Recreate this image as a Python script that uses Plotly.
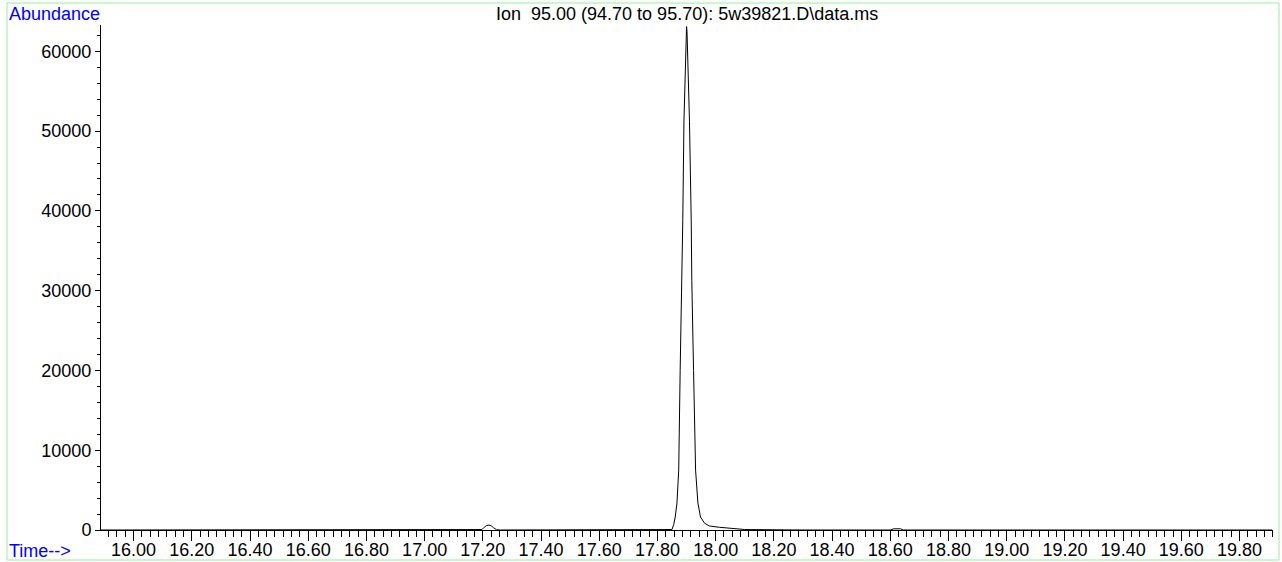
import plotly.graph_objects as go

# Retention time (min) and abundance
times = [15.888, 16.50, 17.00, 17.19, 17.197, 17.205, 17.213, 17.221, 17.229,
         17.237, 17.247, 17.26, 17.60, 17.80, 17.845, 17.850, 17.856, 17.861,
         17.867, 17.873, 17.878, 17.884, 17.887, 17.891, 17.8985, 17.900,
         17.9015, 17.910, 17.916, 17.918, 17.924, 17.931, 17.939, 17.948,
         17.962, 17.979, 18.013, 18.048, 18.075, 18.10, 18.30, 18.60, 18.612,
         18.62, 18.635, 18.645, 19.00, 19.912]
abundance = [0, 0, 0, 0, 60, 350, 560, 620, 520,
             280, 30, 0, 0, 0, 0, 60, 700, 1625,
             3375, 7500, 20000, 31250, 38750, 51250, 62800, 63100,
             62500, 51250, 38750, 31250, 20000, 7500, 3375, 1625,
             840, 500, 340, 250, 200, 60, 0, 0, 150,
             180, 150, 0, 0, 0]

title_text = "Ion  95.00 (94.70 to 95.70): 5w39821.D\\data.ms"
y_label = "Abundance"
x_label = "Time-->"

FONT = "Liberation Sans, Arial, sans-serif"

fig = go.Figure()
fig.add_trace(go.Scatter(x=times, y=abundance, mode="lines",
                         line=dict(color="black", width=1),
                         hoverinfo="skip", showlegend=False))

L, R, T, B = 101, 9, 25, 32
W, H = 1282, 562
pw = W - L - R
ph = H - T - B

def px(x):
    return (x - L) / pw

def py(y):
    return (H - B - y) / ph

fig.update_layout(
    width=W, height=H,
    margin=dict(l=L, r=R, t=T, b=B, pad=0, autoexpand=False),
    paper_bgcolor="white", plot_bgcolor="white",
    font=dict(family=FONT, size=18, color="black"),
    xaxis=dict(range=[15.888, 19.915], showgrid=False, zeroline=False,
               automargin=False,
               showline=True, linecolor="black", linewidth=1,
               ticks="outside", ticklen=10, tickwidth=1, tickcolor="black",
               tick0=16.0, dtick=0.2, tickformat=".2f",
               ticklabelstandoff=-7,
               minor=dict(ticks="outside", ticklen=6, tickwidth=1,
                          tickcolor="black", tick0=16.0, dtick=0.2 / 7,
                          showgrid=False),
               tickfont=dict(size=18)),
    yaxis=dict(range=[0, 63300], showgrid=False, zeroline=False,
               automargin=False,
               showline=True, linecolor="black", linewidth=1,
               ticks="outside", ticklen=5, tickwidth=1, tickcolor="black",
               tick0=0, dtick=10000, tickformat="d",
               minor=dict(ticks="outside", ticklen=3, tickwidth=1,
                          tickcolor="black", dtick=2000, showgrid=False),
               tickfont=dict(size=18)),
    shapes=[dict(type="rect", xref="paper", yref="paper",
                 x0=px(7), x1=px(1279), y0=py(560), y1=py(3),
                 line=dict(color="#99ee99", width=1), layer="below")],
    annotations=[
        dict(text=y_label, xref="paper", yref="paper", x=px(7), y=py(14),
             xanchor="left", yanchor="middle", showarrow=False,
             font=dict(color="#0000ff", size=18, family=FONT)),
        dict(text=x_label, xref="paper", yref="paper", x=px(7), y=py(551),
             xanchor="left", yanchor="middle", showarrow=False,
             font=dict(color="#0000ff", size=18, family=FONT)),
        dict(text=title_text, xref="paper", yref="paper", x=px(687), y=py(14),
             xanchor="center", yanchor="middle", showarrow=False,
             font=dict(color="black", size=18, family=FONT)),
    ],
)

fig.write_html("out.html")
